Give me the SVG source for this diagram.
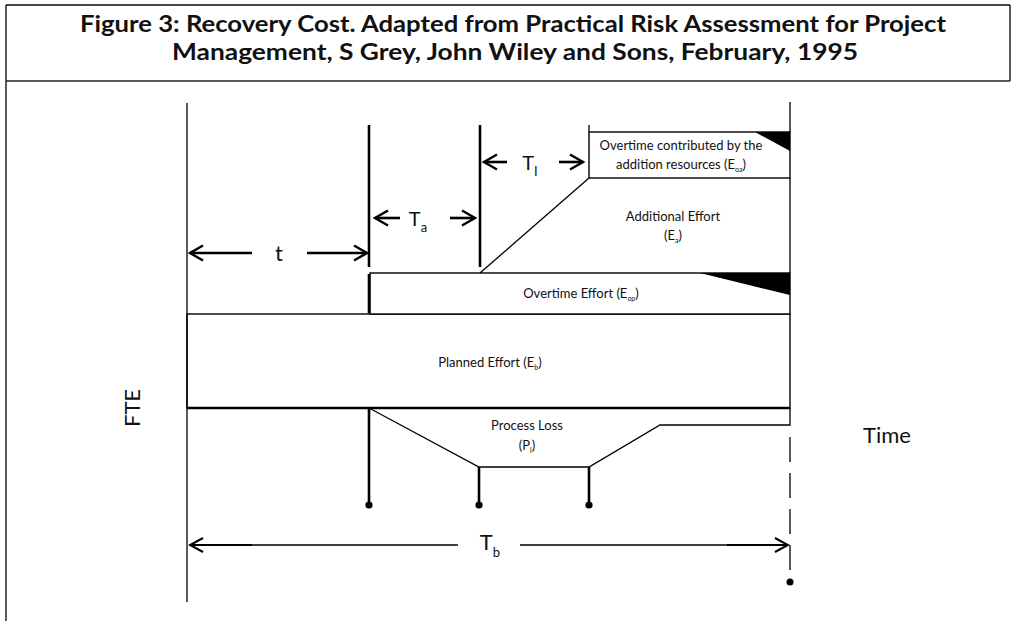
<svg xmlns="http://www.w3.org/2000/svg" width="1013" height="621" viewBox="0 0 1013 621">
<style>
.thin{fill:none;stroke:#000;stroke-width:1.3}
.thick{fill:none;stroke:#000;stroke-width:2.6}
.box{fill:#fff;stroke:#000;stroke-width:1.4}
.blk{fill:#000;stroke:none}
.lbl{font-family:Lato,"Liberation Sans",sans-serif;font-size:13px;fill:#111;text-anchor:middle}
.sub{font-size:7px}
.big{font-family:Lato,"Liberation Sans",sans-serif;font-size:22px;fill:#111;text-anchor:middle}
.bsub{font-size:13px}
.title{font-family:Lato,"Liberation Sans",sans-serif;font-weight:700;font-size:22px;fill:#111;text-anchor:middle}
.arr{fill:none;stroke:#000;stroke-width:2.6}
.arrb{fill:none;stroke:#000;stroke-width:1.5}
.dash{fill:none;stroke:#000;stroke-width:1.3;stroke-dasharray:25 11}
</style>
<defs>
<marker id="chev" markerUnits="userSpaceOnUse" markerWidth="16" markerHeight="18" refX="14" refY="9" orient="auto-start-reverse" viewBox="0 0 16 18">
<path d="M1 1.5 L14 9 L1 16.5" fill="none" stroke="#000" stroke-width="2.4"/>
</marker>
<marker id="chevb" markerUnits="userSpaceOnUse" markerWidth="16" markerHeight="18" refX="14" refY="9" orient="auto-start-reverse" viewBox="0 0 16 18">
<path d="M1 2 L14 9 L1 16" fill="none" stroke="#000" stroke-width="2"/>
</marker>
</defs>
<rect x="0" y="0" width="1013" height="621" fill="#fff"/>

<g id="frame">
<line x1="6" y1="5" x2="1010" y2="5" stroke="#444" stroke-width="2"/>
<line x1="6" y1="5" x2="6" y2="621" stroke="#222" stroke-width="1.5"/>
<line x1="1010" y1="5" x2="1010" y2="81" stroke="#222" stroke-width="1.5"/>
<line x1="6" y1="81" x2="1010" y2="81" stroke="#222" stroke-width="1.5"/>
</g>

<g id="title">
<text class="title" x="513" y="32" textLength="866" lengthAdjust="spacingAndGlyphs">Figure 3: Recovery Cost. Adapted from Practical Risk Assessment for Project</text>
<text class="title" x="515" y="60" textLength="686" lengthAdjust="spacingAndGlyphs">Management, S Grey, John Wiley and Sons, February, 1995</text>
</g>

<g id="planned-effort">
<rect class="box" x="187" y="314" width="603" height="94"/>
<line x1="187" y1="408" x2="790" y2="408" stroke="#000" stroke-width="2.4"/>
<text class="lbl" x="490" y="367">Planned Effort (E<tspan class="sub" dy="3">b</tspan><tspan dy="-3">)</tspan></text>
</g>

<g id="overtime-effort">
<rect class="box" x="370" y="273" width="420" height="41"/>
<polygon class="blk" points="700,273 790,273 790,295"/>
<text class="lbl" x="581" y="298">Overtime Effort (E<tspan class="sub" dy="3">op</tspan><tspan dy="-3">)</tspan></text>
</g>

<g id="additional-effort">
<line class="thin" x1="790" y1="178" x2="790" y2="273"/>
<text class="lbl" x="673" y="221">Additional Effort</text>
<text class="lbl" x="673" y="240">(E<tspan class="sub" dy="3">a</tspan><tspan dy="-3">)</tspan></text>
</g>

<g id="overtime-added">
<rect class="box" x="589" y="132" width="201" height="46"/>
<polygon class="blk" points="755,132 790,132 790,151"/>
<text class="lbl" x="681" y="150">Overtime contributed by the</text>
<text class="lbl" x="681" y="169">addition resources (E<tspan class="sub" dy="3">oa</tspan><tspan dy="-3">)</tspan></text>
</g>

<g id="process-loss">
<polyline class="thin" points="369,408 479,467 589,467 660,425 790,425 790,408"/>
<text class="lbl" x="527" y="430">Process Loss</text>
<text class="lbl" x="527" y="450">(P<tspan class="sub" dy="3">l</tspan><tspan dy="-3">)</tspan></text>
</g>

<g id="axis-labels">
<text class="big" transform="translate(139.5,408) rotate(-90)">FTE</text>
<text class="big" x="887" y="443">Time</text>
<text class="big" x="279" y="261">t</text>
<text class="big" x="418" y="226" style="font-size:20px">T<tspan class="bsub" dy="6">a</tspan></text>
<text class="big" x="530" y="170" style="font-size:20px">T<tspan class="bsub" dy="6">I</tspan></text>
<text class="big" x="490" y="550">T<tspan class="bsub" dy="7">b</tspan></text>
</g>

<g id="connectors">
<line class="thin" x1="187" y1="103" x2="187" y2="602"/>
<line class="thin" x1="589" y1="125" x2="589" y2="132"/>
<line class="thin" x1="790" y1="102" x2="790" y2="132"/>
<line class="thin" x1="480" y1="273" x2="589" y2="178"/>
<line class="dash" x1="790" y1="437" x2="790" y2="576"/>
<circle class="blk" cx="790" cy="582" r="3.5"/>
<line class="thick" x1="369" y1="125" x2="369" y2="267"/>
<line class="thick" x1="480" y1="125" x2="480" y2="267"/>
<line class="thick" x1="369" y1="274" x2="369" y2="313"/>
<line class="thick" x1="369" y1="408" x2="369" y2="505"/>
<line class="thick" x1="479" y1="467" x2="479" y2="505"/>
<line class="thick" x1="589" y1="467" x2="589" y2="505"/>
<circle class="blk" cx="369" cy="505" r="3.6"/>
<circle class="blk" cx="479" cy="505" r="3.6"/>
<circle class="blk" cx="589" cy="505" r="3.6"/>
<line class="arr" x1="252" y1="253" x2="190" y2="253" marker-end="url(#chev)"/>
<line class="arr" x1="307" y1="253" x2="367" y2="253" marker-end="url(#chev)"/>
<line class="arr" x1="400" y1="218" x2="375" y2="218" marker-end="url(#chev)"/>
<line class="arr" x1="450" y1="218" x2="475" y2="218" marker-end="url(#chev)"/>
<line class="arr" x1="507" y1="162" x2="484" y2="162" marker-end="url(#chev)"/>
<line class="arr" x1="559" y1="162" x2="583" y2="162" marker-end="url(#chev)"/>
<line class="arrb" x1="458" y1="545" x2="190" y2="545" marker-end="url(#chevb)"/>
<line class="arrb" x1="520" y1="545" x2="788" y2="545" marker-end="url(#chevb)"/>
<line x1="190" y1="545" x2="252" y2="545" stroke="#000" stroke-width="2.2"/>
<line x1="727" y1="545" x2="788" y2="545" stroke="#000" stroke-width="2.2"/>
</g>
</svg>
